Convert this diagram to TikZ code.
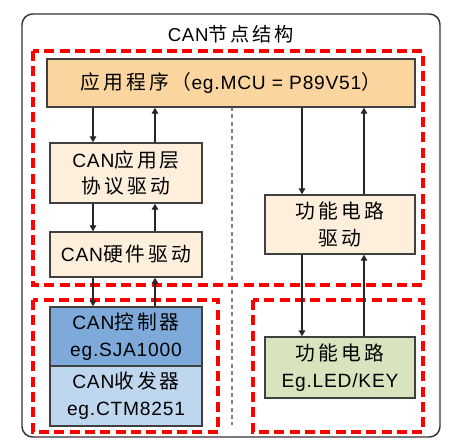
\documentclass[tikz,border=0pt]{standalone}
\usepackage{fontspec}
\setmainfont{Liberation Sans}[LetterSpace=4]
\newfontfamily\cjk{Noto Sans CJK SC}[Scale=1.03,LetterSpace=15]
\usetikzlibrary{arrows.meta}
\definecolor{appFill}{RGB}{250,213,160}
\definecolor{drvFill}{RGB}{253,239,219}
\definecolor{ctrlFill}{RGB}{125,170,218}
\definecolor{trxFill}{RGB}{190,215,238}
\definecolor{circFill}{RGB}{215,228,189}
\colorlet{boxLine}{black!75}
\colorlet{groupLine}{red}
\newcommand{\px}{0.75pt}
\newcommand{\zh}[1]{{\cjk #1}}
\tikzstyle{layerBox}=[draw=boxLine,line width=1.1pt,align=center,inner sep=0pt,font=\fontsize{14.4}{20.2}\selectfont]
\tikzstyle{appBox}=[layerBox,fill=appFill]
\tikzstyle{drvBox}=[layerBox,fill=drvFill]
\tikzstyle{ctrlBox}=[layerBox,fill=ctrlFill]
\tikzstyle{trxBox}=[layerBox,fill=trxFill]
\tikzstyle{circBox}=[layerBox,fill=circFill]
\tikzstyle{groupFrame}=[draw=groupLine,line width=2.3pt,dash pattern=on 7.5pt off 4pt]
\tikzstyle{flowArrow}=[draw=black!85,line width=0.8pt,-{Triangle[length=4.5pt,width=5pt]}]

\begin{document}
\begin{tikzpicture}[x=0.75pt,y=-0.75pt]
\useasboundingbox (0,0) rectangle (455,448);
% outer frame and title
\draw[draw=black!80,line width=1.1pt,rounded corners=8pt] (22,14) rectangle (440,437);
\node[font=\fontsize{14}{17}\selectfont] (title) at (231,34) {CAN\zh{节点结构}};
% divider
\draw[gray,line width=1.1pt,dash pattern=on 3pt off 2.5pt] (232,107) -- (232,425);
% red groups
\draw[groupFrame] (33,51) rectangle (423,285);
\draw[groupFrame] (33,300) rectangle (218,432);
\draw[groupFrame] (253,300) rectangle (423,432);
% layers
\node[appBox,minimum width=368*\px,minimum height=48*\px] (app) at (231,83)
        {\zh{应用程序（}eg.MCU = P89V51\zh{）}};
\node[drvBox,minimum width=152*\px,minimum height=60*\px] (proto) at (126,173)
        {CAN\zh{应用层}\\\zh{协议驱动}};
\node[drvBox,minimum width=152*\px,minimum height=45*\px] (hw) at (126,254.5)
        {CAN\zh{硬件驱动}};
\node[ctrlBox,minimum width=152*\px,minimum height=59*\px] (ctrl) at (126,336.5)
        {CAN\zh{控制器}\\eg.SJA1000};
\node[trxBox,minimum width=152*\px,minimum height=60*\px] (trx) at (126,396)
        {CAN\zh{收发器}\\eg.CTM8251};
\node[drvBox,minimum width=150*\px,minimum height=59*\px] (fdrv) at (340,224.5)
        {\zh{功能电路}\\\zh{驱动}};
\node[circBox,minimum width=150*\px,minimum height=61*\px] (fcirc) at (340,367.5)
        {\zh{功能电路}\\Eg.LED/KEY};
% arrow columns
\coordinate (leftDn) at (93,0);
\coordinate (leftUp) at (155,0);
\coordinate (rightDn) at (302,0);
\coordinate (rightUp) at (364,0);
\draw[flowArrow] (app.south -| leftDn) -- (proto.north -| leftDn);
\draw[flowArrow] (proto.north -| leftUp) -- (app.south -| leftUp);
\draw[flowArrow] (proto.south -| leftDn) -- (hw.north -| leftDn);
\draw[flowArrow] (hw.north -| leftUp) -- (proto.south -| leftUp);
\draw[flowArrow] (hw.south -| leftDn) -- (ctrl.north -| leftDn);
\draw[flowArrow] (ctrl.north -| leftUp) -- (hw.south -| leftUp);
\draw[flowArrow] (app.south -| rightDn) -- (fdrv.north -| rightDn);
\draw[flowArrow] (fdrv.north -| rightUp) -- (app.south -| rightUp);
\draw[flowArrow] (fdrv.south -| rightDn) -- (fcirc.north -| rightDn);
\draw[flowArrow] (fcirc.north -| rightUp) -- (fdrv.south -| rightUp);
\end{tikzpicture}
\end{document}
